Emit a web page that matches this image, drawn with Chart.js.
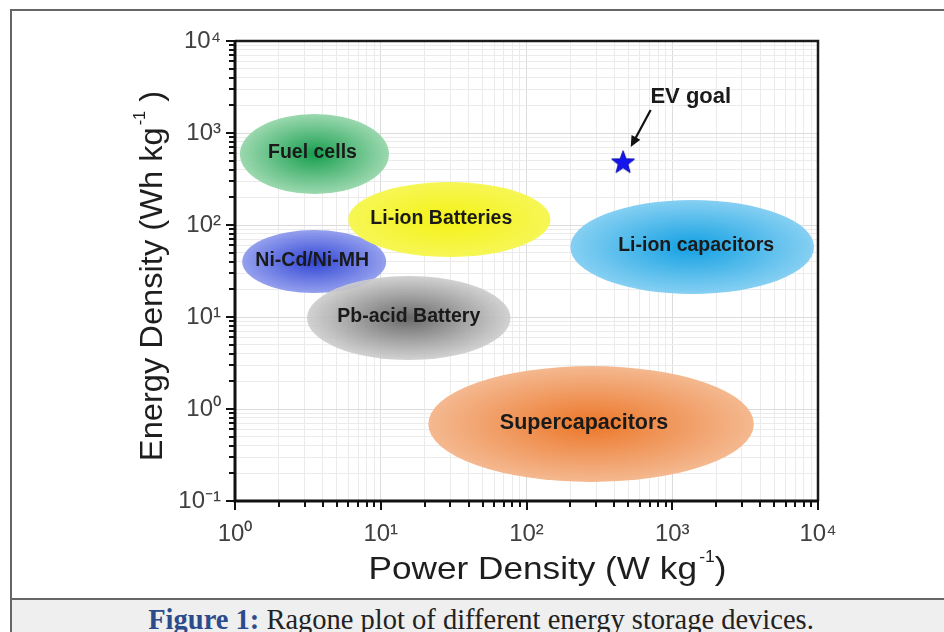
<!DOCTYPE html>
<html><head><meta charset="utf-8">
<script src="https://cdn.jsdelivr.net/npm/chart.js@4.4.1/dist/chart.umd.min.js"></script>
<style>
html,body{margin:0;padding:0;background:#fff;width:944px;height:632px;overflow:hidden;}
#frame{position:absolute;left:10px;top:9px;width:980px;height:660px;border:2px solid #666;background:#fff;box-sizing:border-box;}
#cap{position:absolute;left:10px;top:598px;width:980px;height:60px;border-top:2px solid #666;border-left:2px solid #666;background:#efefef;box-sizing:border-box;}
#capText{position:absolute;left:11px;top:604px;width:940px;text-align:center;font-family:"Liberation Serif","DejaVu Serif",serif;font-size:28.5px;color:#222;white-space:nowrap;}
#capText b{color:#2b4b8c;}
#c{position:absolute;left:0;top:0;}
</style></head>
<body>
<div id="frame"></div>
<div id="cap"></div>
<div id="capText"><b>Figure 1:</b> Ragone plot of different energy storage devices.</div>
<canvas id="c" width="944" height="598"></canvas>
<script>
// ---- data ----
const regionNames = ['Fuel cells', 'Ni-Cd/Ni-MH', 'Li-ion Batteries', 'Pb-acid Battery', 'Li-ion capacitors', 'Supercapacitors'];
const powerMin  = [1.08, 1.12, 5.98, 3.12, 200, 21.2];
const powerMax  = [11.4, 10.9, 146, 77.6, 9390, 3630];
const energyMin = [217, 18.2, 44.9, 3.41, 17.8, 0.161];
const energyMax = [1610, 88.2, 293, 27.9, 187, 2.93];
const evGoalPower = [460];
const evGoalEnergy = [480];
const evArrowPower = [711, 519];
const evArrowEnergy = [1778, 704];
const evLabelPower = [1340];
const evLabelEnergy = [2460];
const evLabelText = 'EV goal';
const xTickExponents = [0, 1, 2, 3, 4];
const xTickLabels = ['10⁰', '10¹', '10²', '10³', '10⁴'];
const yTickExponents = [-1, 0, 1, 2, 3, 4];
const yTickLabels = ['10⁻¹', '10⁰', '10¹', '10²', '10³', '10⁴'];
const xTitleParts = ['Power Density (W kg', '-1', ')'];
const yTitleParts = ['Energy Density (Wh kg', '-1', ' )'];

// ---- styles ----
const regionCenter = ['rgba(22,158,78,1)', 'rgba(40,62,212,0.97)', 'rgba(244,242,20,1)', 'rgba(100,100,100,0.97)', 'rgba(18,160,226,1)', 'rgba(236,118,40,1)'];
const regionEdge   = ['rgba(150,214,170,0.95)', 'rgba(140,152,236,0.92)', 'rgba(246,246,80,0.97)', 'rgba(205,205,205,0.9)', 'rgba(130,206,242,0.97)', 'rgba(244,182,140,0.97)'];
const regionFontSize = [19.5, 19.5, 19.5, 19.5, 19.5, 21.5];
const regionLabelShift = [-2, -2, -8, 0, 4, -7];
const FONT = '"Liberation Sans", Arial, sans-serif';

function isMajor(v){ const l = Math.log10(v); return Math.abs(l - Math.round(l)) < 1e-9; }
function buildTicks(exps){
  const t = [];
  for (let i = 0; i < exps.length - 1; i++) for (let m = 1; m < 10; m++) t.push({value: m * Math.pow(10, exps[i])});
  t.push({value: Math.pow(10, exps[exps.length - 1])});
  return t;
}
function drawSupText(ctx, parts, size, supSize) {
  ctx.font = size + 'px ' + FONT;
  const w1 = ctx.measureText(parts[0]).width, w3 = ctx.measureText(parts[2]).width;
  ctx.font = supSize + 'px ' + FONT;
  const w2 = ctx.measureText(parts[1]).width;
  const gap = 2, total = w1 + gap + w2 + w3;
  let x = -total / 2;
  ctx.textAlign = 'left'; ctx.textBaseline = 'alphabetic';
  ctx.font = size + 'px ' + FONT; ctx.fillText(parts[0], x, 0); x += w1 + gap;
  ctx.font = supSize + 'px ' + FONT; ctx.fillText(parts[1], x, -size * 0.52); x += w2;
  ctx.font = size + 'px ' + FONT; ctx.fillText(parts[2], x, 0);
}

// star point image
const star = document.createElement('canvas');
star.width = 26; star.height = 26;
(function(){
  const c = star.getContext('2d');
  c.beginPath();
  for (let i = 0; i < 10; i++) {
    const r = i % 2 === 0 ? 12 : 5;
    const a = -Math.PI / 2 + i * Math.PI / 5;
    const x = 13 + r * Math.cos(a), y = 13.5 + r * Math.sin(a);
    i === 0 ? c.moveTo(x, y) : c.lineTo(x, y);
  }
  c.closePath();
  c.fillStyle = '#1414ee'; c.fill();
  c.strokeStyle = '#0a0aa8'; c.lineWidth = 1; c.stroke();
})();

const regionsPlugin = {
  id: 'regions',
  beforeDatasetsDraw(chart) {
    const ctx = chart.ctx, xs = chart.scales.x, ys = chart.scales.y;
    for (let i = 0; i < regionNames.length; i++) {
      const x1 = xs.getPixelForValue(powerMin[i]), x2 = xs.getPixelForValue(powerMax[i]);
      const y1 = ys.getPixelForValue(energyMax[i]), y2 = ys.getPixelForValue(energyMin[i]);
      const cx = (x1 + x2) / 2, cy = (y1 + y2) / 2, rx = (x2 - x1) / 2, ry = (y2 - y1) / 2;
      ctx.save();
      ctx.translate(cx, cy); ctx.scale(rx, ry);
      const g = ctx.createRadialGradient(0, 0, 0, 0, 0, 1);
      g.addColorStop(0, regionCenter[i]);
      g.addColorStop(1, regionEdge[i]);
      ctx.beginPath(); ctx.arc(0, 0, 1, 0, Math.PI * 2);
      ctx.fillStyle = g; ctx.fill();
      ctx.restore();
      ctx.save();
      ctx.font = 'bold ' + regionFontSize[i] + 'px ' + FONT;
      ctx.fillStyle = '#1a1a1a'; ctx.textAlign = 'center'; ctx.textBaseline = 'middle';
      ctx.fillText(regionNames[i], cx + regionLabelShift[i], cy - 1);
      ctx.restore();
    }
  },
  afterDraw(chart) {
    const ctx = chart.ctx, xs = chart.scales.x, ys = chart.scales.y, a = chart.chartArea;
    ctx.save();
    // tick marks
    ctx.strokeStyle = '#111'; ctx.lineWidth = 2;
    xs.ticks.forEach(t => {
      const p = Math.round(xs.getPixelForValue(t.value)), len = isMajor(t.value) ? 9 : 6;
      ctx.beginPath(); ctx.moveTo(p, a.bottom); ctx.lineTo(p, a.bottom + len); ctx.stroke();
    });
    ys.ticks.forEach(t => {
      const p = Math.round(ys.getPixelForValue(t.value)), len = isMajor(t.value) ? 9 : 6;
      ctx.beginPath(); ctx.moveTo(a.left, p); ctx.lineTo(a.left - len, p); ctx.stroke();
    });
    // frame
    ctx.lineWidth = 2.5; ctx.strokeStyle = '#1a1a1a';
    ctx.beginPath(); ctx.moveTo(a.left, a.top); ctx.lineTo(a.right, a.top); ctx.lineTo(a.right, a.bottom); ctx.stroke();
    ctx.lineWidth = 3; ctx.strokeStyle = '#111';
    ctx.beginPath(); ctx.moveTo(a.left, a.top - 1); ctx.lineTo(a.left, a.bottom); ctx.lineTo(a.right + 1, a.bottom); ctx.stroke();
    // EV goal arrow
    const ax1 = xs.getPixelForValue(evArrowPower[0]), ay1 = ys.getPixelForValue(evArrowEnergy[0]);
    const ax2 = xs.getPixelForValue(evArrowPower[1]), ay2 = ys.getPixelForValue(evArrowEnergy[1]);
    const ang = Math.atan2(ay2 - ay1, ax2 - ax1);
    ctx.strokeStyle = '#111'; ctx.fillStyle = '#111'; ctx.lineWidth = 2.2;
    ctx.beginPath(); ctx.moveTo(ax1, ay1); ctx.lineTo(ax2 - 6 * Math.cos(ang), ay2 - 6 * Math.sin(ang)); ctx.stroke();
    ctx.beginPath();
    ctx.moveTo(ax2, ay2);
    ctx.lineTo(ax2 - 11 * Math.cos(ang) + 5 * Math.sin(ang), ay2 - 11 * Math.sin(ang) - 5 * Math.cos(ang));
    ctx.lineTo(ax2 - 11 * Math.cos(ang) - 5 * Math.sin(ang), ay2 - 11 * Math.sin(ang) + 5 * Math.cos(ang));
    ctx.closePath(); ctx.fill();
    ctx.font = 'bold 22px ' + FONT;
    ctx.textAlign = 'center'; ctx.textBaseline = 'middle'; ctx.fillStyle = '#1a1a1a';
    ctx.fillText(evLabelText, xs.getPixelForValue(evLabelPower[0]), ys.getPixelForValue(evLabelEnergy[0]));
    // axis titles
    ctx.fillStyle = '#1e1e1e';
    ctx.save();
    ctx.translate((a.left + a.right) / 2 + 21, a.bottom + 78);
    ctx.scale(1.1, 1);
    drawSupText(ctx, xTitleParts, 32, 16);
    ctx.restore();
    ctx.save();
    ctx.translate(a.left - 73, (a.top + a.bottom) / 2 + 5);
    ctx.rotate(-Math.PI / 2);
    ctx.scale(1.02, 1);
    drawSupText(ctx, yTitleParts, 32, 16);
    ctx.restore();
    ctx.restore();
  }
};

Chart.defaults.font.family = FONT;
new Chart(document.getElementById('c'), {
  type: 'scatter',
  data: {
    datasets: [{
      label: 'EV goal',
      data: evGoalPower.map((p, i) => ({x: p, y: evGoalEnergy[i]})),
      pointStyle: star,
      pointRadius: 12
    }]
  },
  options: {
    responsive: false,
    animation: false,
    events: [],
    layout: {padding: {left: 132, top: 41, right: 126, bottom: 12}},
    plugins: {legend: {display: false}, tooltip: {enabled: false}},
    scales: {
      x: {
        type: 'logarithmic', position: 'bottom',
        min: Math.pow(10, xTickExponents[0]), max: Math.pow(10, xTickExponents[xTickExponents.length - 1]),
        afterBuildTicks: s => { s.ticks = buildTicks(xTickExponents); },
        afterFit: s => { s.height = 85; },
        border: {display: false},
        grid: {drawTicks: false, color: c => isMajor(c.tick.value) ? '#dcdcdc' : '#ebebeb', lineWidth: 1},
        ticks: {
          autoSkip: false, maxRotation: 0, padding: 19, color: '#404040',
          font: {size: 24},
          callback: v => isMajor(v) ? xTickLabels[xTickExponents.indexOf(Math.round(Math.log10(v)))] : ''
        },
        title: {display: false}
      },
      y: {
        type: 'logarithmic', position: 'left',
        min: Math.pow(10, yTickExponents[0]), max: Math.pow(10, yTickExponents[yTickExponents.length - 1]),
        afterBuildTicks: s => { s.ticks = buildTicks(yTickExponents); },
        afterFit: s => { s.width = 103; },
        border: {display: false},
        grid: {drawTicks: false, color: c => isMajor(c.tick.value) ? '#dcdcdc' : '#ebebeb', lineWidth: 1},
        ticks: {
          autoSkip: false, padding: 14, color: '#404040',
          font: {size: 24},
          callback: v => isMajor(v) ? yTickLabels[yTickExponents.indexOf(Math.round(Math.log10(v)))] : ''
        },
        title: {display: false}
      }
    }
  },
  plugins: [regionsPlugin]
});
</script>
</body></html>
